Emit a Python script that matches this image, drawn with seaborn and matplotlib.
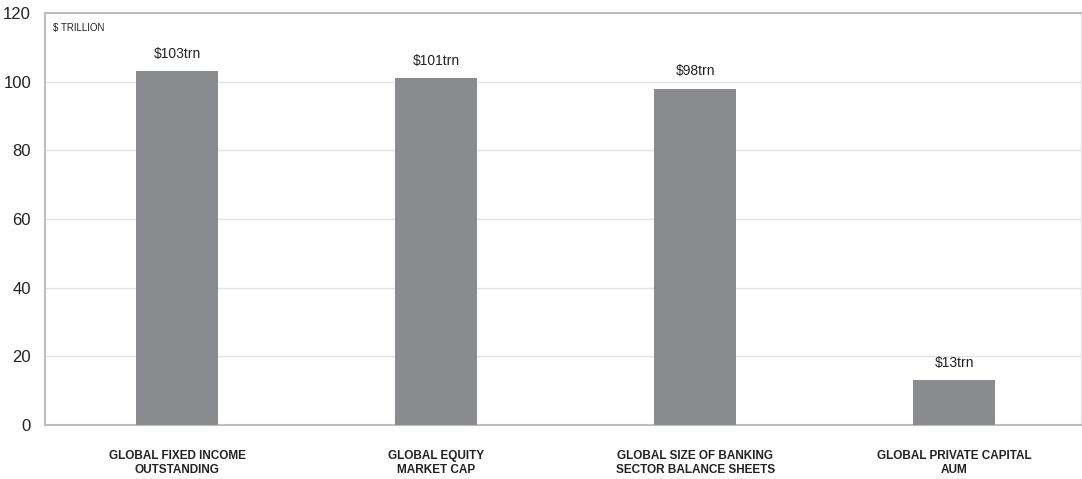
import matplotlib
matplotlib.use("Agg")
import matplotlib.pyplot as plt
import seaborn as sns
import pandas as pd

categories = ["GLOBAL FIXED INCOME\nOUTSTANDING", "GLOBAL EQUITY\nMARKET CAP",
              "GLOBAL SIZE OF BANKING\nSECTOR BALANCE SHEETS", "GLOBAL PRIVATE CAPITAL\nAUM"]
values = [103, 101, 98, 13]
labels = ["$103trn", "$101trn", "$98trn", "$13trn"]
yticks = [0, 20, 40, 60, 80, 100, 120]

sns.set_style("white")
plt.rcParams['font.family'] = ['Liberation Sans', 'DejaVu Sans']

df = pd.DataFrame({"cat": categories, "val": values})
fig = plt.figure(figsize=(10.82, 4.79), dpi=100)
ax = fig.add_axes([45/1082, 1 - 425/479, 1036/1082, 412/479])
sns.barplot(data=df, x="cat", y="val", color="#8a8b8e", width=0.315, saturation=1,
            linewidth=0, ax=ax, zorder=3)
for p, lab in zip(ax.patches, labels):
    ax.text(p.get_x() + p.get_width()/2, p.get_height() + 3, lab, ha="center", va="bottom",
            fontsize=10, color="#222222")
ax.set_ylim(0, 120)
ax.set_xlim(-0.51, 3.49)
ax.set_yticks(yticks)
ax.set_yticklabels([str(t) for t in yticks], fontsize=12, color="#222222")
ax.set_xticklabels(categories, fontsize=8.5, fontweight="bold", color="#222222")
ax.tick_params(axis="x", length=0, pad=18)
ax.tick_params(axis="y", length=0, pad=10)
ax.set_xlabel("")
ax.set_ylabel("")
ax.yaxis.grid(True, color="#e3e3e3", linewidth=1, zorder=0)
for s in ["top", "left", "bottom"]:
    ax.spines[s].set_color("#bdbdbd")
    ax.spines[s].set_linewidth(1.5)
ax.spines["right"].set_color("#e6e6e6")
ax.spines["right"].set_linewidth(1)
ax.text(0.008, 0.975, "$ TRILLION", transform=ax.transAxes, fontsize=7, va="top", ha="left",
        color="#222222")
fig.savefig("out.png", dpi=100)
